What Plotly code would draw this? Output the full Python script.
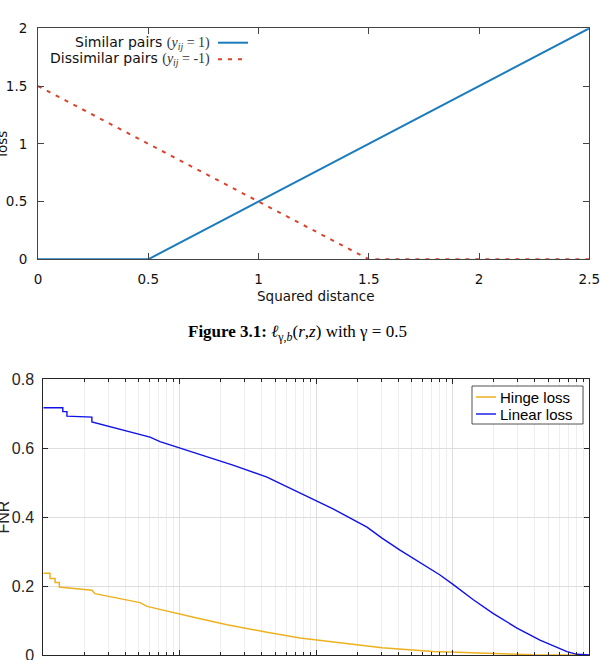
import plotly.graph_objects as go

# ---------------- data ----------------
# Figure 3.1 (top): loss vs squared distance
dist_similar = [0, 0.5, 2.5]
loss_similar = [0, 0, 2]
dist_dissimilar = [0, 1.5, 2.5]
loss_dissimilar = [1.5, 0, 0]

# Bottom: FNR vs (log) FPR
fpr_linear = [1.00e-4, 1.39e-4, 1.39e-4, 1.49e-4, 1.49e-4, 2.27e-4, 2.27e-4, 2.60e-4,
              3.08e-4, 3.97e-4, 6.05e-4, 7.16e-4, 1.00e-3, 1.41e-3, 2.45e-3, 4.35e-3,
              7.60e-3, 9.46e-3, 1.326e-2, 2.352e-2, 3.029e-2, 4.104e-2, 8.06e-2, 0.1003,
              0.1406, 0.197, 0.2953, 0.4353, 0.6866, 0.8126, 1.0]
fnr_linear = [0.717, 0.717, 0.706, 0.706, 0.693, 0.690, 0.676, 0.670,
              0.663, 0.652, 0.632, 0.619, 0.600, 0.582, 0.551, 0.516,
              0.471, 0.451, 0.424, 0.371, 0.339, 0.304, 0.232, 0.205,
              0.161, 0.121, 0.078, 0.043, 0.010, 0.002, 0.0]

fpr_hinge = [1.00e-4, 1.12e-4, 1.12e-4, 1.22e-4, 1.22e-4, 1.31e-4, 1.31e-4, 1.95e-4,
             2.27e-4, 2.39e-4, 3.08e-4, 4.10e-4, 5.11e-4, 5.75e-4, 8.06e-4, 1.00e-3,
             1.41e-3, 2.22e-3, 3.11e-3, 4.35e-3, 7.60e-3, 1.326e-2, 3.029e-2, 7.16e-2,
             0.197, 0.3869, 1.0]
fnr_hinge = [0.237, 0.237, 0.222, 0.222, 0.210, 0.210, 0.197, 0.191,
             0.188, 0.178, 0.170, 0.161, 0.152, 0.141, 0.127, 0.118,
             0.105, 0.088, 0.076, 0.066, 0.049, 0.038, 0.021, 0.010,
             0.004, 0.001, 0.0]

top_xticks = [0, 0.5, 1, 1.5, 2, 2.5]
top_xlabels = ["0", "0.5", "1", "1.5", "2", "2.5"]
top_yticks = [0, 0.5, 1, 1.5, 2]
top_ylabels = ["0", "0.5", "1", "1.5", "2"]
bot_yticks = [0, 0.2, 0.4, 0.6, 0.8]
bot_ylabels = ["0", "0.2", "0.4", "0.6", "0.8"]
bot_xmajor = [1e-4, 1e-3, 1e-2, 1e-1, 1]
bot_xminor = [k * 10.0 ** e for e in range(-4, 0) for k in range(2, 10)]

# ---------------- helpers (pixel -> paper) ----------------
W, H = 600, 660
def px(x):
    return x / W
def py(y):
    return 1 - y / H

BLUE_TOP = "#1b7cbd"
RED_TOP = "#dc4129"
HINGE = "#EDB120"
LINEAR = "#1010e8"
GNU_FONT = "DejaVu Sans"
MAT_FONT = "Liberation Sans"

fig = go.Figure()

fig.add_trace(go.Scatter(x=dist_similar, y=loss_similar, mode="lines",
                         line=dict(color=BLUE_TOP, width=2),
                         xaxis="x", yaxis="y", showlegend=False))
fig.add_trace(go.Scatter(x=dist_dissimilar, y=loss_dissimilar, mode="lines",
                         line=dict(color=RED_TOP, width=2, dash="4px,6px"),
                         xaxis="x", yaxis="y", showlegend=False))

fig.add_trace(go.Scatter(x=fpr_hinge, y=fnr_hinge, mode="lines",
                         line=dict(color=HINGE, width=1.5),
                         xaxis="x2", yaxis="y2", showlegend=False))
fig.add_trace(go.Scatter(x=fpr_linear, y=fnr_linear, mode="lines",
                         line=dict(color=LINEAR, width=1.4),
                         xaxis="x2", yaxis="y2", showlegend=False))

top_axis_common = dict(showline=True, linecolor="#444444", linewidth=1,
                       ticks="inside", ticklen=6, tickcolor="#444444",
                       mirror="ticks", showgrid=False, zeroline=False,
                       tickfont=dict(family=GNU_FONT, size=13.5, color="#111111"),
                       ticklabelstandoff=7, ticklabeloverflow="allow",
                       automargin=False)

bot_axis_common = dict(showline=True, linecolor="#262626", linewidth=1,
                       ticks="inside", ticklen=5, tickcolor="#262626",
                       mirror="ticks", zeroline=False,
                       showgrid=True, gridcolor="#dedede", gridwidth=1,
                       tickfont=dict(family=MAT_FONT, size=16, color="#262626"),
                       ticklabeloverflow="allow", automargin=False)

fig.update_layout(
    width=W, height=H,
    margin=dict(l=0, r=0, t=0, b=0, autoexpand=False),
    paper_bgcolor="white", plot_bgcolor="white",
    xaxis=dict(domain=[px(38), px(589.3)], range=[0, 2.5], anchor="y",
               tickvals=top_xticks, ticktext=top_xlabels, **top_axis_common),
    yaxis=dict(domain=[py(259.3), py(28.3)], range=[0, 2], anchor="x",
               tickvals=top_yticks, ticktext=top_ylabels, **top_axis_common),
    xaxis2=dict(domain=[px(43.3), px(589.3)], type="log", range=[-4, 0], anchor="y2",
                tickvals=bot_xmajor, showticklabels=False,
                minor=dict(tickvals=bot_xminor, ticks="inside", ticklen=3,
                           tickcolor="#262626", showgrid=True,
                           gridcolor="#eeeeee", gridwidth=1),
                **bot_axis_common),
    yaxis2=dict(domain=[py(655), py(379.2)], range=[0, 0.8], anchor="x2",
                tickvals=bot_yticks, ticktext=bot_ylabels, ticklabelstandoff=5,
                **bot_axis_common),
)

shapes = []
annotations = []

# top legend (gnuplot style: text right-aligned, sample to the right)
shapes.append(dict(type="line", xref="paper", yref="paper",
                   x0=px(218), x1=px(248), y0=py(42.7), y1=py(42.7),
                   line=dict(color=BLUE_TOP, width=2)))
shapes.append(dict(type="line", xref="paper", yref="paper",
                   x0=px(218), x1=px(248), y0=py(59.3), y1=py(59.3),
                   line=dict(color=RED_TOP, width=2, dash="4px,6px")))
math_span = '<span style="font-family:Liberation Serif;font-size:14px;fill:#333333">'
annotations.append(dict(xref="paper", yref="paper", x=px(212), y=py(42.7),
                        xanchor="right", yanchor="middle", showarrow=False,
                        text="Similar pairs " + math_span + "(<i>y</i><sub><i>ij</i></sub> = 1)</span>",
                        font=dict(family=GNU_FONT, size=14, color="#111111")))
annotations.append(dict(xref="paper", yref="paper", x=px(212), y=py(59.3),
                        xanchor="right", yanchor="middle", showarrow=False,
                        text="Dissimilar pairs " + math_span + "(<i>y</i><sub><i>ij</i></sub> = -1)</span>",
                        font=dict(family=GNU_FONT, size=14, color="#111111")))

# top axis titles
annotations.append(dict(xref="paper", yref="paper", x=px(316), y=py(296),
                        xanchor="center", yanchor="middle", showarrow=False,
                        text="Squared distance",
                        font=dict(family=GNU_FONT, size=13.5, color="#111111")))
annotations.append(dict(xref="paper", yref="paper", x=px(2), y=py(143.8),
                        xanchor="center", yanchor="middle", showarrow=False,
                        text="loss", textangle=-90,
                        font=dict(family=GNU_FONT, size=13.5, color="#111111")))

# caption
annotations.append(dict(xref="paper", yref="paper", x=px(297), y=py(333),
                        xanchor="center", yanchor="middle", showarrow=False,
                        text="<b>Figure 3.1:</b> <i>ℓ</i><sub>γ,<i>b</i></sub>(<i>r</i>,<i>z</i>) with γ = 0.5",
                        font=dict(family="Liberation Serif", size=17, color="#000000")))

# bottom y title
annotations.append(dict(xref="paper", yref="paper", x=px(2.5), y=py(517),
                        xanchor="center", yanchor="middle", showarrow=False,
                        text="FNR", textangle=-90,
                        font=dict(family=MAT_FONT, size=16, color="#262626")))

# bottom legend (MATLAB style box)
shapes.append(dict(type="rect", xref="paper", yref="paper",
                   x0=px(472), x1=px(583), y0=py(424), y1=py(386),
                   line=dict(color="#262626", width=0.8), fillcolor="white"))
shapes.append(dict(type="line", xref="paper", yref="paper",
                   x0=px(476), x1=px(496), y0=py(397), y1=py(397),
                   line=dict(color=HINGE, width=1.5)))
shapes.append(dict(type="line", xref="paper", yref="paper",
                   x0=px(476), x1=px(496), y0=py(414), y1=py(414),
                   line=dict(color=LINEAR, width=1.4)))
annotations.append(dict(xref="paper", yref="paper", x=px(497.5), y=py(397),
                        xanchor="left", yanchor="middle", showarrow=False,
                        text="Hinge loss",
                        font=dict(family=MAT_FONT, size=15, color="#000000")))
annotations.append(dict(xref="paper", yref="paper", x=px(497.5), y=py(414),
                        xanchor="left", yanchor="middle", showarrow=False,
                        text="Linear loss",
                        font=dict(family=MAT_FONT, size=15, color="#000000")))

fig.update_layout(shapes=shapes, annotations=annotations)

fig.write_html("out.html")
